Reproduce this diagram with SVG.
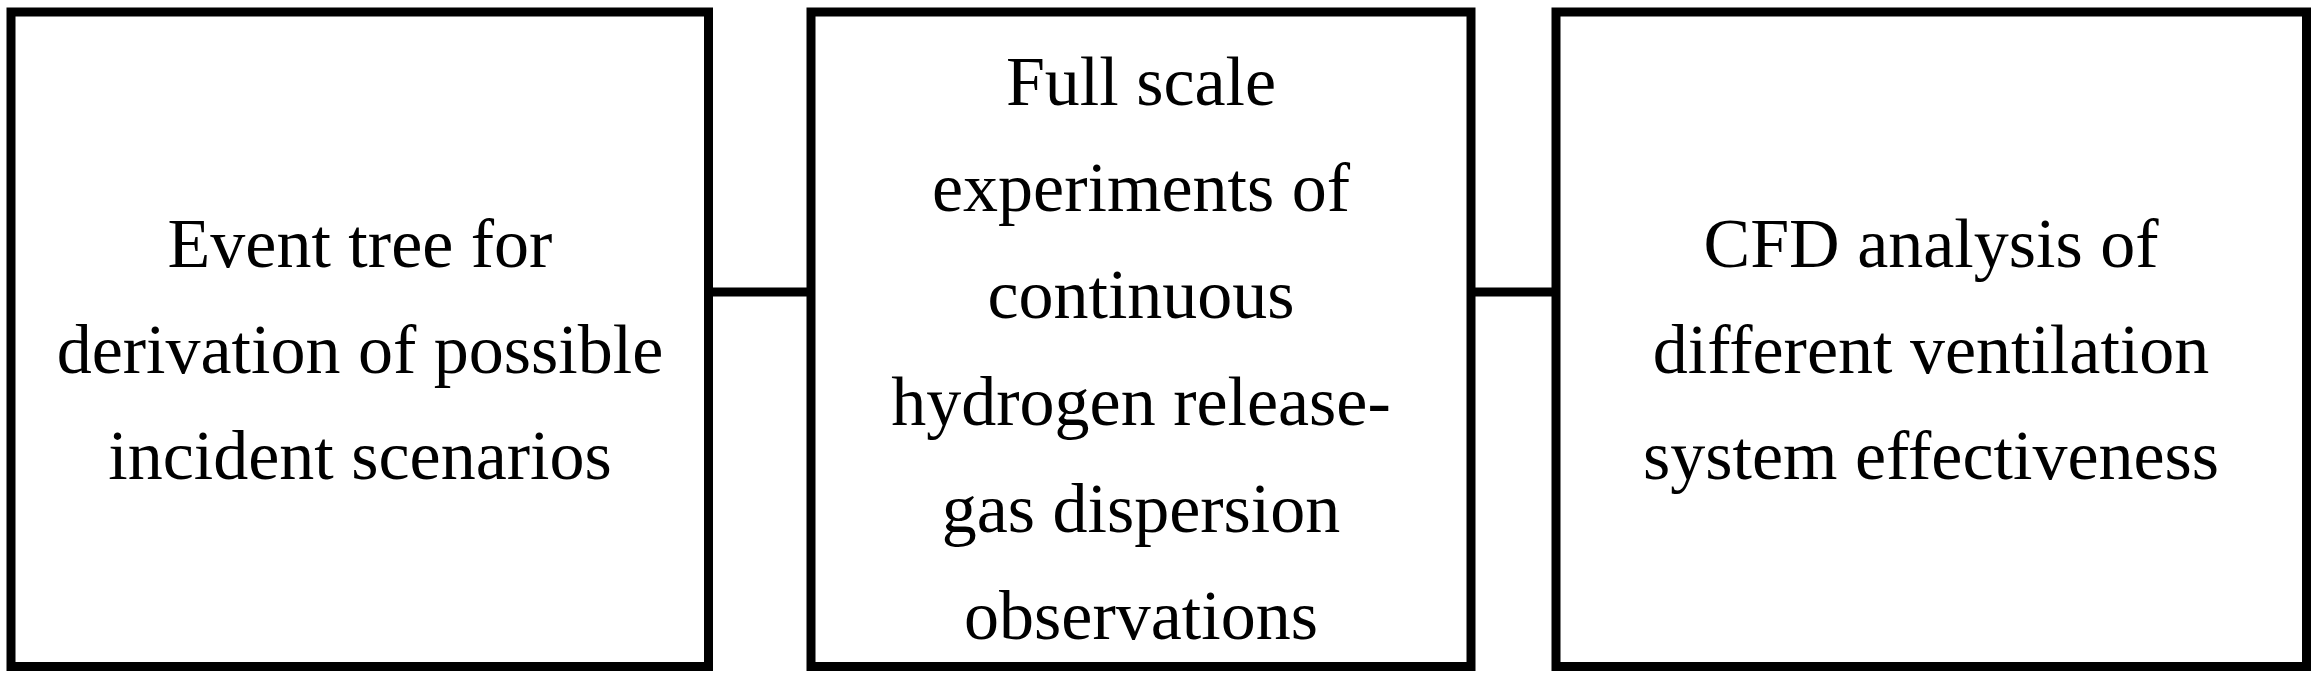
<svg xmlns="http://www.w3.org/2000/svg" width="2319" height="677" viewBox="0 0 2319 677">
<style>
.box{fill:#fff;stroke:#000;stroke-width:9}
.lbl{font-family:"Liberation Serif","Times New Roman",serif;font-size:70px;fill:#000;text-anchor:middle}
.con{stroke:#000;stroke-width:9;fill:none}
</style>
<rect width="2319" height="677" fill="#fff"/>
<g id="connectors">
<line class="con" x1="708" y1="292" x2="811" y2="292"/>
<line class="con" x1="1471" y1="292" x2="1556" y2="292"/>
</g>
<g id="node1">
<rect class="box" x="11" y="12" width="697.5" height="654.5"/>
<text class="lbl" x="360" y="267">Event tree for</text>
<text class="lbl" x="360" y="373">derivation of possible</text>
<text class="lbl" x="360" y="479">incident scenarios</text>
</g>
<g id="node2">
<rect class="box" x="811" y="12" width="660" height="654.5"/>
<text class="lbl" x="1141" y="105">Full scale</text>
<text class="lbl" x="1141" y="211">experiments of</text>
<text class="lbl" x="1141" y="318">continuous</text>
<text class="lbl" x="1141" y="425">hydrogen release-</text>
<text class="lbl" x="1141" y="532">gas dispersion</text>
<text class="lbl" x="1141" y="639">observations</text>
</g>
<g id="node3">
<rect class="box" x="1556" y="12" width="750.5" height="654.5"/>
<text class="lbl" x="1931" y="267">CFD analysis of</text>
<text class="lbl" x="1931" y="373">different ventilation</text>
<text class="lbl" x="1931" y="479">system effectiveness</text>
</g>
</svg>
